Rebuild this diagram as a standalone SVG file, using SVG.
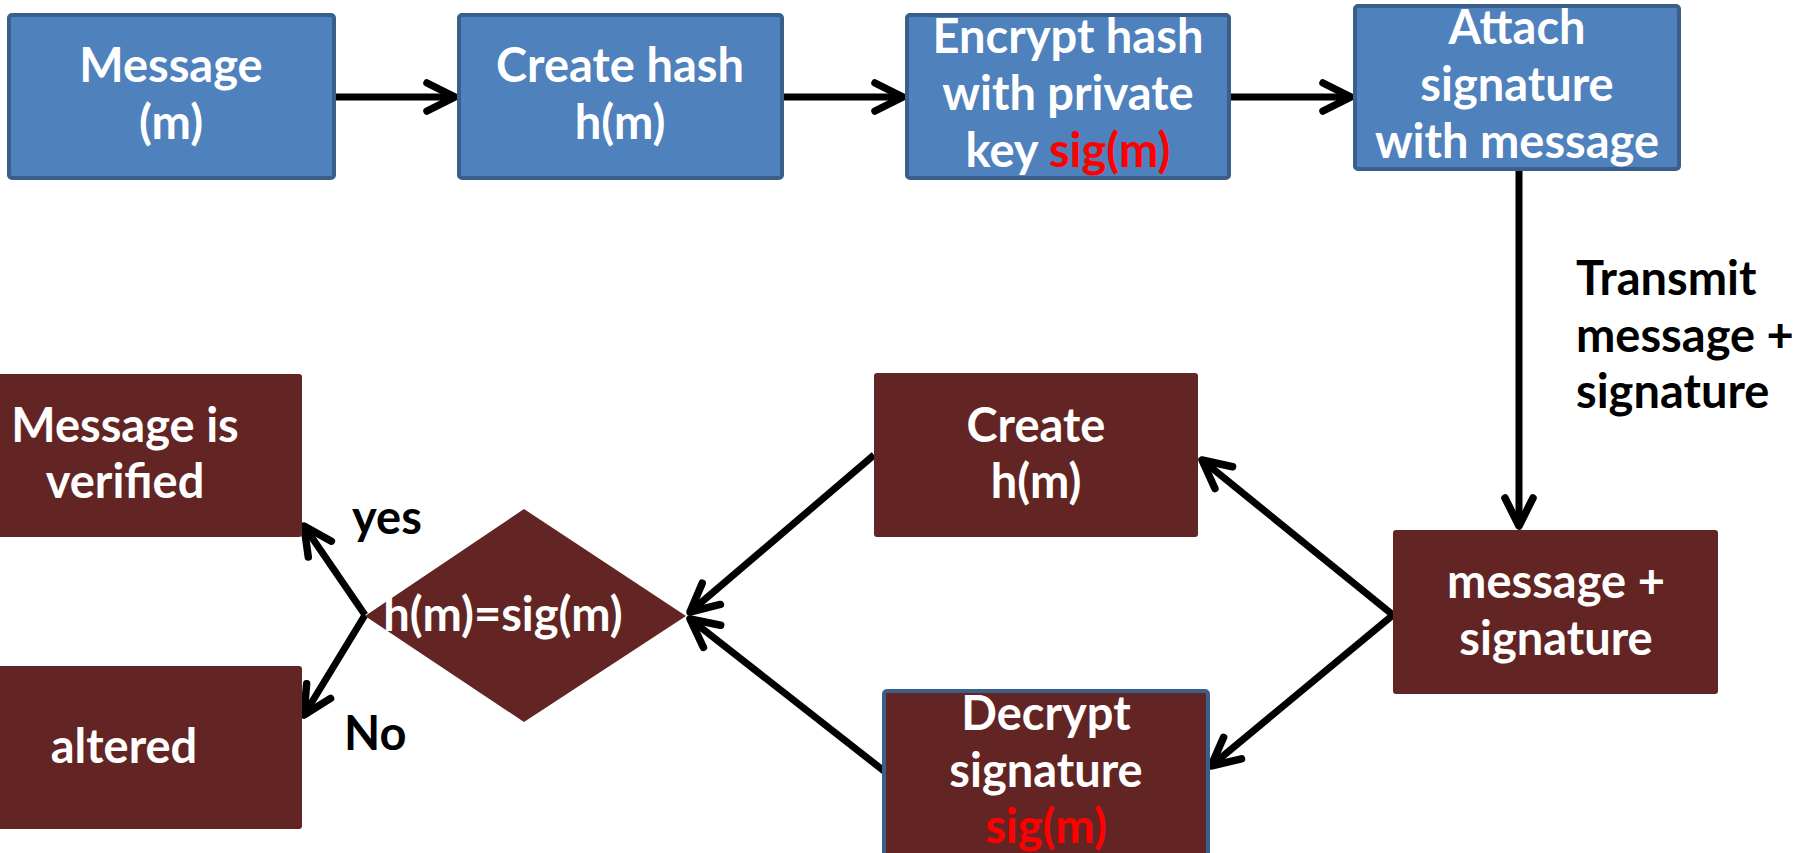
<svg xmlns="http://www.w3.org/2000/svg" width="1798" height="853" viewBox="0 0 1798 853">
<style>
.blue{fill:#4F81BD;stroke:#3A5F8B;stroke-width:4}
.maroon{fill:#632523}
.t{font-family:"Lato","Liberation Sans",sans-serif;font-weight:bold;font-size:47px;fill:#fff;text-anchor:middle}
.lbl{font-family:"Lato","Liberation Sans",sans-serif;font-weight:bold;font-size:47px;fill:#000}
.red{fill:#FF0000}
.con{stroke:#000;stroke-width:7;fill:none;marker-end:url(#arr)}
</style>
<defs>
<marker id="arr" markerUnits="userSpaceOnUse" markerWidth="50" markerHeight="50" viewBox="-40 -25 50 50" refX="0" refY="0" orient="auto" overflow="visible">
<path d="M-28,-14 L0,0 L-28,14" fill="none" stroke="#000" stroke-width="7.5" stroke-linecap="round" stroke-linejoin="round"/>
</marker>
</defs>
<rect width="1798" height="853" fill="#fff"/>
<g id="connectors">
<line class="con" x1="334" y1="97" x2="455" y2="97"/>
<line class="con" x1="782" y1="97" x2="903" y2="97"/>
<line class="con" x1="1229" y1="97" x2="1351" y2="97"/>
<line class="con" x1="1519" y1="169" x2="1519" y2="526"/>
<line class="con" x1="1393" y1="615" x2="1202" y2="460"/>
<line class="con" x1="1393" y1="615" x2="1211" y2="766"/>
<line class="con" x1="874" y1="455" x2="690" y2="612"/>
<line class="con" x1="884" y1="771" x2="690" y2="619"/>
<line class="con" x1="365" y1="615" x2="304" y2="526"/>
<line class="con" x1="365" y1="615" x2="304" y2="715"/>
</g>
<g id="message">
<rect class="blue" x="9" y="15" width="325" height="163" rx="3"/>
<text class="t" x="171" y="82">Message</text>
<text class="t" x="171" y="139">(m)</text>
</g>
<g id="create-hash">
<rect class="blue" x="459" y="15" width="323" height="163" rx="3"/>
<text class="t" x="620" y="82">Create hash</text>
<text class="t" x="620" y="139">h(m)</text>
</g>
<g id="encrypt">
<rect class="blue" x="907" y="15" width="322" height="163" rx="3"/>
<text class="t" x="1068" y="53">Encrypt hash</text>
<text class="t" x="1068" y="110">with private</text>
<text class="t" x="1068" y="167">key <tspan class="red">sig(m)</tspan></text>
</g>
<g id="attach">
<rect class="blue" x="1355" y="6" width="324" height="163" rx="3"/>
<text class="t" x="1517" y="44">Attach</text>
<text class="t" x="1517" y="101">signature</text>
<text class="t" x="1517" y="158">with message</text>
</g>
<g id="transmit-label">
<text class="lbl" x="1576" y="295">Transmit</text>
<text class="lbl" x="1576" y="352">message +</text>
<text class="lbl" x="1576" y="408">signature</text>
</g>
<g id="msg-sig">
<rect class="maroon" x="1393" y="530" width="325" height="164" rx="3"/>
<text class="t" x="1556" y="598">message +</text>
<text class="t" x="1556" y="655">signature</text>
</g>
<g id="create-hm">
<rect class="maroon" x="874" y="373" width="324" height="164" rx="3"/>
<text class="t" x="1036" y="442">Create</text>
<text class="t" x="1036" y="498">h(m)</text>
</g>
<g id="decrypt">
<rect class="maroon" x="884" y="691" width="324" height="180" rx="3" stroke="#3A5F8B" stroke-width="4"/>
<text class="t" x="1046" y="730">Decrypt</text>
<text class="t" x="1046" y="787">signature</text>
<text class="t red" x="1046" y="843">sig(m)</text>
</g>
<g id="compare">
<polygon class="maroon" points="524,509 686,616 524,722 365,616"/>
<text class="t" x="503" y="631">h(m)=sig(m)</text>
</g>
<g id="verified">
<rect class="maroon" x="-5" y="374" width="307" height="163" rx="3"/>
<text class="t" x="125" y="442">Message is</text>
<text class="t" x="125" y="498">verified</text>
</g>
<g id="altered">
<rect class="maroon" x="-5" y="666" width="307" height="163" rx="3"/>
<text class="t" x="124" y="763">altered</text>
</g>
<g id="labels">
<text class="lbl" x="352" y="534">yes</text>
<text class="lbl" x="344" y="750">No</text>
</g>
</svg>
